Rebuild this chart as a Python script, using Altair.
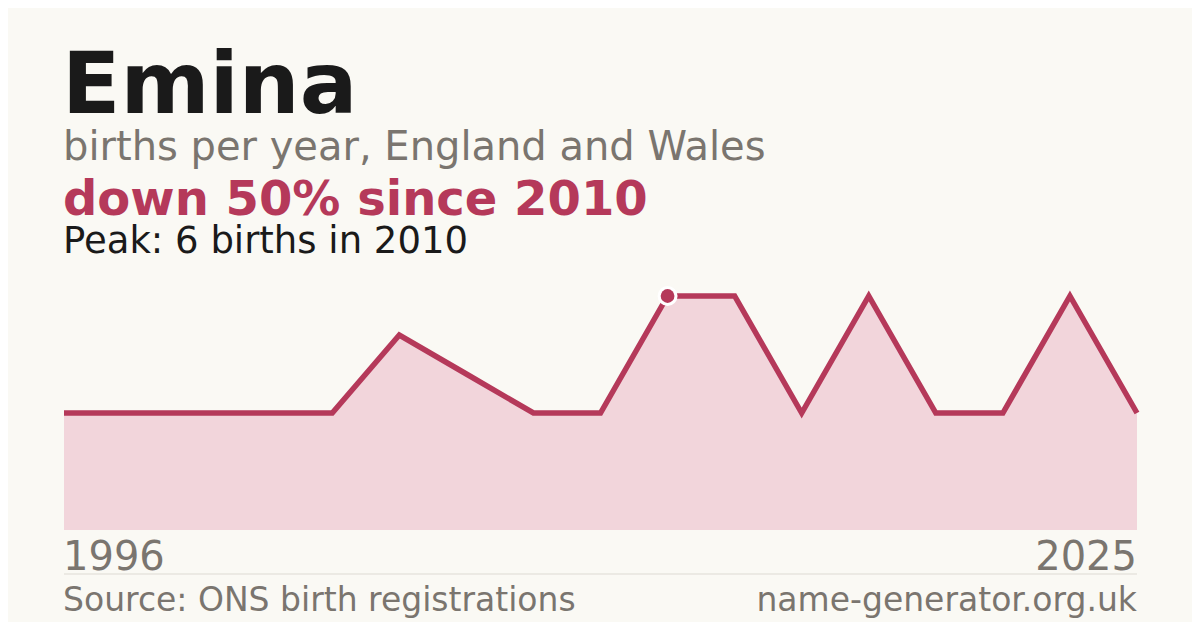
import altair as alt
import pandas as pd

# Data (years with published counts, plotted evenly by index)
years = [1996, 1998, 1999, 2001, 2003, 2005, 2006, 2008, 2009, 2010,
         2012, 2014, 2016, 2018, 2020, 2023, 2025]
births = [3, 3, 3, 3, 3, 5, 4, 3, 3, 6, 6, 3, 6, 3, 3, 6, 3]
peak_year = 2010

title_text = "Emina"
subtitle_text = "births per year, England and Wales"
trend_text = "down 50% since 2010"
peak_text = "Peak: 6 births in 2010"
start_label = "1996"
end_label = "2025"
source_text = "Source: ONS birth registrations"
site_text = "name-generator.org.uk"

CRIMSON = "#b5395a"
FILL = "#f2d5db"
GRAY = "#7a756f"
DARK = "#1a1a1a"
FONT = "DejaVu Sans"

W, H = 1073, 234

df = pd.DataFrame({"year": years, "births": births})

x = alt.X("year:O", scale=alt.Scale(type="point", padding=0), axis=None)
y = alt.Y("births:Q", scale=alt.Scale(domain=[0, 6], nice=False, zero=True), axis=None)

base = alt.Chart(df)
area = base.mark_area(color=FILL, opacity=1).encode(x=x, y=y)
line = base.mark_line(color=CRIMSON, strokeWidth=5.5, strokeJoin="miter").encode(x=x, y=y)
peak_base = base.transform_filter(alt.datum.year == peak_year)
halo = peak_base.mark_circle(color="white", opacity=1, size=400).encode(x=x, y=y)
peak = peak_base.mark_circle(color=CRIMSON, opacity=1, size=190).encode(x=x, y=y)


def txt(s, xv, yv, size, color, weight="normal", align="left"):
    return alt.Chart(pd.DataFrame({"t": [s]})).mark_text(
        font=FONT, fontSize=size, color=color, fontWeight=weight,
        align=align, baseline="alphabetic"
    ).encode(text="t:N", x=alt.value(xv), y=alt.value(yv))


texts = [
    txt(title_text, -2, -183, 85.5, DARK, "bold"),
    txt(subtitle_text, -1, -136, 40, GRAY),
    txt(trend_text, -1, -81, 48, CRIMSON, "bold"),
    txt(peak_text, -1, -43, 37, DARK),
    txt(start_label, -1, 274, 40, GRAY),
    txt(end_label, W, 274, 40, GRAY, align="right"),
    txt(source_text, -1, 315, 33, GRAY),
    txt(site_text, W, 315, 33, GRAY, align="right"),
]

sep = alt.Chart(pd.DataFrame({"a": [0]})).mark_rule(color="#dddad3", strokeWidth=1).encode(
    x=alt.value(0), x2=alt.value(W), y=alt.value(278)
)

chart = alt.layer(area, line, sep, halo, peak, *texts).properties(
    width=W, height=H,
    padding={"left": 56, "top": 288, "right": 55, "bottom": 92},
    autosize=alt.AutoSizeParams(type="none"),
).configure(background="#faf9f4").configure_view(stroke=None)

chart.save("out.html", embed_options={"renderer": "svg", "actions": False})
